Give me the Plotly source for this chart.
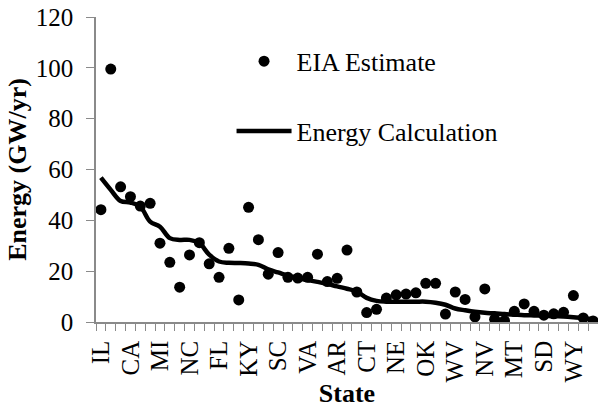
import plotly.graph_objects as go

states = ["IL", "TX", "PA", "CA", "NY", "OH", "MI", "GA", "IN", "NC", "NJ", "TN",
          "FL", "AL", "WA", "KY", "MO", "LA", "SC", "MN", "WI", "VA", "MD", "AZ",
          "AR", "MS", "KS", "CT", "IA", "MA", "NE", "CO", "OR", "OK", "UT", "NH",
          "WV", "NM", "ND", "NV", "ID", "ME", "MT", "DE", "RI", "SD", "VT", "HI",
          "WY", "AK", "DC"]

eia_estimate = [44.2, 99.5, 53.2, 49.3, 45.6, 46.7, 31.0, 23.5, 13.7, 26.4, 31.2, 22.9,
                17.6, 29.0, 8.7, 45.1, 32.4, 18.8, 27.3, 17.6, 17.3, 17.6, 26.7, 15.9,
                17.2, 28.3, 11.8, 3.7, 5.0, 9.4, 10.7, 11.0, 11.5, 15.2, 15.2, 3.1,
                11.8, 8.9, 2.0, 13.0, 1.1, 0.5, 4.2, 7.1, 4.2, 2.7, 3.2, 3.8,
                10.4, 1.6, 0.4]

energy_calc = [56.8, 52.0, 47.6, 47.0, 45.4, 39.5, 37.5, 33.0, 32.3, 32.3, 31.0, 26.5,
               23.8, 23.3, 23.2, 23.0, 22.5, 20.7, 19.5, 18.2, 17.2, 16.5, 15.8, 15.0,
               14.0, 13.1, 12.0, 9.5, 8.3, 8.0, 8.0, 8.0, 8.0, 8.0, 7.6, 6.8,
               5.3, 4.6, 4.0, 3.6, 3.4, 3.1, 2.9, 2.7, 2.6, 2.5, 2.3, 2.2,
               1.9, 1.5, 1.1]

label_step = 3
y_ticks = [0, 20, 40, 60, 80, 100, 120]

idx = list(range(len(states)))
FONT = "Liberation Serif"
AXIS_COLOR = "#8a8a8a"

fig = go.Figure()
fig.add_trace(go.Scatter(
    x=idx, y=eia_estimate, mode="markers", name="EIA Estimate",
    legendgroup="a",
    marker=dict(color="black", size=11),
))
fig.add_trace(go.Scatter(
    x=idx, y=energy_calc, mode="lines", name="Energy Calculation",
    legendgroup="b",
    line=dict(color="black", width=4.5, shape="spline", smoothing=1.0),
))

fig.update_layout(
    width=598, height=410,
    margin=dict(l=96, r=0, t=17, b=88, autoexpand=False),
    paper_bgcolor="white", plot_bgcolor="white",
    font=dict(family=FONT, color="black", size=25),
    showlegend=True,
    legend=dict(
        x=0.27, y=0.932, xanchor="left", yanchor="top",
        bgcolor="rgba(0,0,0,0)", font=dict(family=FONT, size=26, color="black"),
        traceorder="grouped", tracegroupgap=33, itemwidth=55,
    ),
)

fig.update_xaxes(
    automargin=False,
    range=[-0.5, len(states) - 0.5],
    tickmode="array",
    tickvals=idx[::label_step],
    ticktext=states[::label_step],
    tickangle=-90,
    ticks="outside", ticklen=7, tickcolor="rgba(0,0,0,0)",
    tickfont=dict(family=FONT, size=25),
    showline=True, linecolor=AXIS_COLOR, linewidth=1.5,
    showgrid=False, zeroline=False,
    minor=dict(tickmode="array", tickvals=[i - 0.5 for i in range(len(states) + 1)],
               ticks="outside", ticklen=7, tickcolor=AXIS_COLOR, tickwidth=1.2,
               showgrid=False),
    title=dict(text="<b>State</b>", font=dict(family=FONT, size=26), standoff=2),
)

fig.update_yaxes(
    automargin=False,
    range=[0, 120],
    tickmode="array", tickvals=y_ticks,
    ticks="outside", ticklen=8, tickcolor=AXIS_COLOR, tickwidth=1.2,
    ticklabelstandoff=8, ticklabeloverflow="allow",
    tickfont=dict(family=FONT, size=25),
    showline=True, linecolor=AXIS_COLOR, linewidth=1.5,
    showgrid=False, zeroline=False,
    title=dict(text="<b>Energy (GW/yr)</b>", font=dict(family=FONT, size=26), standoff=2),
)

# remove the default 8px page margin so the 598x410 figure fills the window exactly
fig.write_html("out.html", config={"displayModeBar": False},
               post_script="document.body.style.margin='0';")
